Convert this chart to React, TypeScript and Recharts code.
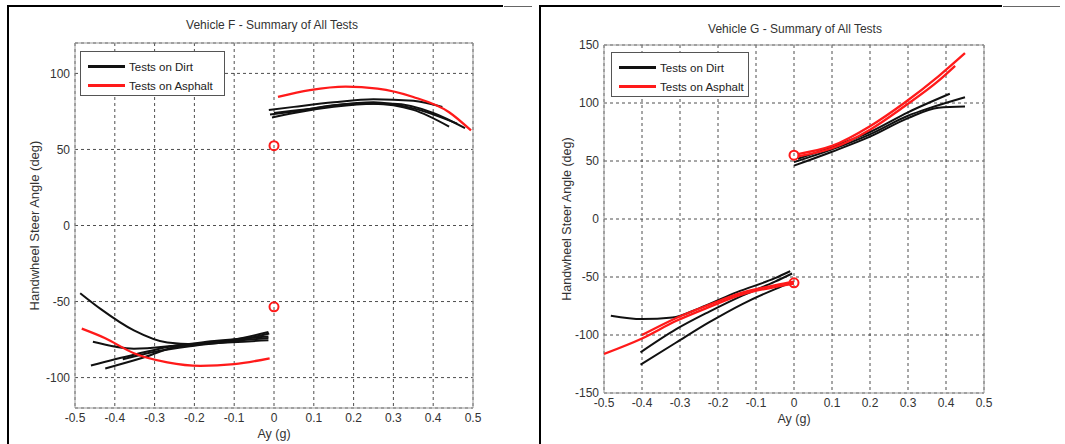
import React from 'react';
import { ComposedChart, Line, Scatter, XAxis, YAxis, CartesianGrid, ReferenceArea, Legend } from 'recharts';

// ---------- shared ticks ----------
const xTicks = [-0.5, -0.4, -0.3, -0.2, -0.1, 0, 0.1, 0.2, 0.3, 0.4, 0.5];
const fYTicks = [-100, -50, 0, 50, 100];
const gYTicks = [-150, -100, -50, 0, 50, 100, 150];
const legendLabels = ['Tests on Dirt', 'Tests on Asphalt'];

// ---------- Vehicle F ----------
const fDirtPos1 = [{ x: -0.013, y: 76 }, { x: 0.05, y: 78 }, { x: 0.15, y: 81 }, { x: 0.25, y: 83 }, { x: 0.35, y: 82 }, { x: 0.423, y: 78 }];
const fDirtPos2 = [{ x: -0.01, y: 73 }, { x: 0.05, y: 75 }, { x: 0.15, y: 79 }, { x: 0.25, y: 81 }, { x: 0.35, y: 77 }, { x: 0.46, y: 67 }];
const fDirtPos3 = [{ x: -0.005, y: 71 }, { x: 0.05, y: 74 }, { x: 0.15, y: 78 }, { x: 0.25, y: 80 }, { x: 0.35, y: 76 }, { x: 0.44, y: 65 }];
const fDirtPos4 = [{ x: 0.0, y: 74 }, { x: 0.1, y: 77 }, { x: 0.2, y: 80 }, { x: 0.3, y: 80 }, { x: 0.4, y: 74 }, { x: 0.48, y: 64 }];
const fAsphPos1 = [{ x: 0.01, y: 84.5 }, { x: 0.09, y: 89 }, { x: 0.18, y: 91.3 }, { x: 0.26, y: 90 }, { x: 0.35, y: 84.5 }, { x: 0.44, y: 74.5 }, { x: 0.495, y: 62.5 }];

const fDirtNeg1 = [{ x: -0.487, y: -44.5 }, { x: -0.435, y: -55 }, { x: -0.352, y: -69 }, { x: -0.268, y: -77 }, { x: -0.2, y: -78 }, { x: -0.1, y: -75 }, { x: -0.014, y: -70 }];
const fDirtNeg2 = [{ x: -0.455, y: -76.5 }, { x: -0.352, y: -81 }, { x: -0.25, y: -79 }, { x: -0.15, y: -76 }, { x: -0.014, y: -73 }];
const fDirtNeg3 = [{ x: -0.46, y: -92 }, { x: -0.352, y: -85 }, { x: -0.25, y: -79 }, { x: -0.15, y: -77 }, { x: -0.014, y: -74 }];
const fDirtNeg4 = [{ x: -0.424, y: -94 }, { x: -0.33, y: -87 }, { x: -0.25, y: -80 }, { x: -0.15, y: -77.5 }, { x: -0.014, y: -75.5 }];
const fDirtNeg5 = [{ x: -0.38, y: -88 }, { x: -0.3, y: -83 }, { x: -0.2, y: -79 }, { x: -0.1, y: -76 }, { x: -0.012, y: -71 }];
const fAsphNeg1 = [{ x: -0.483, y: -67.8 }, { x: -0.424, y: -74.1 }, { x: -0.352, y: -84 }, { x: -0.268, y: -90 }, { x: -0.185, y: -92.3 }, { x: -0.1, y: -91.2 }, { x: -0.011, y: -87.3 }];
const fCircles = [{ x: 0, y: 52.5 }, { x: 0, y: -53.5 }];

// ---------- Vehicle G ----------
const gDirtPos1 = [{ x: 0, y: 46 }, { x: 0.1, y: 58 }, { x: 0.2, y: 71 }, { x: 0.3, y: 87 }, { x: 0.38, y: 96 }, { x: 0.45, y: 97 }];
const gDirtPos2 = [{ x: 0, y: 49 }, { x: 0.1, y: 60 }, { x: 0.2, y: 73 }, { x: 0.3, y: 89 }, { x: 0.36, y: 96 }, { x: 0.45, y: 105 }];
const gDirtPos3 = [{ x: 0.01, y: 52 }, { x: 0.1, y: 62 }, { x: 0.2, y: 75 }, { x: 0.3, y: 92 }, { x: 0.41, y: 108 }];
const gAsphPos1 = [{ x: 0.01, y: 56 }, { x: 0.1, y: 63 }, { x: 0.2, y: 80 }, { x: 0.29, y: 100 }, { x: 0.38, y: 123 }, { x: 0.45, y: 143 }];
const gAsphPos2 = [{ x: 0.01, y: 54 }, { x: 0.1, y: 61 }, { x: 0.2, y: 77 }, { x: 0.29, y: 97 }, { x: 0.38, y: 119 }, { x: 0.424, y: 132 }];

const gDirtNeg1 = [{ x: -0.482, y: -83.4 }, { x: -0.4, y: -86.3 }, { x: -0.32, y: -85 }, { x: -0.25, y: -77 }, { x: -0.15, y: -63 }, { x: -0.05, y: -51 }, { x: -0.01, y: -45 }];
const gDirtNeg2 = [{ x: -0.404, y: -115 }, { x: -0.31, y: -95 }, { x: -0.224, y: -80 }, { x: -0.136, y: -66 }, { x: -0.05, y: -54 }, { x: -0.005, y: -47 }];
const gDirtNeg3 = [{ x: -0.404, y: -125.6 }, { x: -0.311, y: -106.7 }, { x: -0.224, y: -89.2 }, { x: -0.136, y: -73.3 }, { x: -0.048, y: -60.2 }, { x: -0.004, y: -54.4 }];
const gAsphNeg1 = [{ x: -0.5, y: -116.3 }, { x: -0.4, y: -103 }, { x: -0.311, y: -88 }, { x: -0.224, y: -76 }, { x: -0.136, y: -65 }, { x: -0.048, y: -58.5 }, { x: 0, y: -55.8 }];
const gAsphNeg2 = [{ x: -0.4, y: -100 }, { x: -0.311, y: -85.5 }, { x: -0.224, y: -74 }, { x: -0.136, y: -63.5 }, { x: -0.048, y: -57 }, { x: 0, y: -54 }];
const gCircles = [{ x: 0, y: 55 }, { x: 0, y: -55 }];

const DIRT = '#111111';
const ASPH = '#ff1a1a';
const FONT = '"Liberation Sans", Arial, sans-serif';
const TXT = '#333333';

const fmtX = (v: number) => (Math.abs(v) < 1e-9 ? '0' : v.toFixed(1));

const RingShape = (props: any) => {
  const { cx, cy } = props;
  if (cx == null || cy == null) return null;
  return <circle cx={cx} cy={cy} r={4.5} fill="none" stroke={ASPH} strokeWidth={2} />;
};

const LegendBox = ({ width }: { width: number }) => (
  <div
    style={{
      width,
      height: 45,
      border: '1px solid #555',
      background: '#fff',
      boxSizing: 'border-box',
      fontFamily: FONT,
      fontSize: 11.5,
      color: '#222',
      padding: '5px 0 0 7px',
    }}
  >
    {legendLabels.map((lab, i) => (
      <div key={lab} style={{ display: 'flex', alignItems: 'center', height: 19 }}>
        <span style={{ display: 'inline-block', width: 37, height: 3, background: i === 0 ? DIRT : ASPH, marginRight: 4 }} />
        <span>{lab}</span>
      </div>
    ))}
  </div>
);

type Series = { x: number; y: number }[];

const Panel = (props: {
  width: number;
  height: number;
  margin: { top: number; right: number; bottom: number; left: number };
  yDomain: [number, number];
  yTicks: number[];
  dirt: Series[];
  asph: Series[];
  circles: Series;
  legendPos: { left: number; top: number; width: number };
  yLabelOffset: number;
  yLabelSize: number;
  xLabelOffset: number;
}) => {
  const { width, height, margin, yDomain, yTicks, dirt, asph, circles, legendPos, yLabelOffset, yLabelSize, xLabelOffset } = props;
  return (
    <ComposedChart width={width} height={height} margin={margin}>
      <CartesianGrid stroke="#222" strokeDasharray="3 3" strokeWidth={0.8} />
      <ReferenceArea x1={-0.5} x2={0.5} y1={yDomain[0]} y2={yDomain[1]} fill="none" fillOpacity={0} stroke="#999" strokeWidth={1} ifOverflow="visible" />
      <XAxis
        dataKey="x"
        type="number"
        domain={[-0.5, 0.5]}
        ticks={xTicks}
        tickFormatter={fmtX}
        allowDataOverflow
        axisLine={false}
        tickLine={false}
        tickSize={3}
        height={20}
        tick={{ fontSize: 12, fill: TXT, fontFamily: FONT }}
        label={{ value: 'Ay (g)', position: 'bottom', offset: xLabelOffset, style: { fontSize: 12.5, fill: TXT, fontFamily: FONT } }}
      />
      <YAxis
        type="number"
        domain={yDomain}
        ticks={yTicks}
        allowDataOverflow
        axisLine={false}
        tickLine={false}
        tickSize={3}
        width={40}
        tick={{ fontSize: 12, fill: TXT, fontFamily: FONT }}
        label={{
          value: 'Handwheel Steer Angle (deg)',
          angle: -90,
          position: 'insideLeft',
          offset: yLabelOffset,
          style: { textAnchor: 'middle', fontSize: yLabelSize, fill: TXT, fontFamily: FONT },
        }}
      />
      {dirt.map((d, i) => (
        <Line key={'d' + i} data={d} dataKey="y" type="monotone" stroke={DIRT} strokeWidth={2} dot={false} activeDot={false} isAnimationActive={false} />
      ))}
      {asph.map((d, i) => (
        <Line key={'a' + i} data={d} dataKey="y" type="monotone" stroke={ASPH} strokeWidth={2.3} dot={false} activeDot={false} isAnimationActive={false} />
      ))}
      <Scatter data={circles} dataKey="y" shape={RingShape} isAnimationActive={false} />
      <Legend
        layout="horizontal"
        verticalAlign="middle"
        align="center"
        wrapperStyle={{ position: 'absolute', left: legendPos.left, top: legendPos.top, width: legendPos.width, height: 45 }}
        content={() => <LegendBox width={legendPos.width} />}
      />
    </ComposedChart>
  );
};

export default function App() {
  return (
    <div style={{ position: 'absolute', left: 0, top: 0, width: 1065, height: 444, background: '#fff', overflow: 'hidden' }}>
      {/* panel frames */}
      <div style={{ position: 'absolute', left: 7, top: 5, width: 2, height: 439, background: '#000' }} />
      <div style={{ position: 'absolute', left: 7, top: 5, width: 496, height: 2, background: '#000' }} />
      <div style={{ position: 'absolute', left: 504, top: 6, width: 28, height: 1, background: '#666' }} />
      <div style={{ position: 'absolute', left: 539, top: 5, width: 2, height: 439, background: '#000' }} />
      <div style={{ position: 'absolute', left: 539, top: 5, width: 463, height: 2, background: '#000' }} />
      <div style={{ position: 'absolute', left: 1003, top: 6, width: 57, height: 1, background: '#666' }} />

      {/* Vehicle F */}
      <div style={{ position: 'absolute', left: 0, top: 0, width: 540, height: 444 }}>
        <div style={{ position: 'absolute', left: 172, top: 18, width: 200, textAlign: 'center', fontFamily: FONT, fontSize: 12, color: TXT }}>
          Vehicle F - Summary of All Tests
        </div>
        <Panel
          width={540}
          height={444}
          margin={{ top: 43, right: 67, bottom: 16, left: 35 }}
          yDomain={[-120, 120]}
          yTicks={fYTicks}
          dirt={[fDirtPos1, fDirtPos2, fDirtPos3, fDirtPos4, fDirtNeg1, fDirtNeg2, fDirtNeg3, fDirtNeg4, fDirtNeg5]}
          asph={[fAsphPos1, fAsphNeg1]}
          circles={fCircles}
          legendPos={{ left: 80, top: 51, width: 145 }}
          yLabelOffset={-1}
          yLabelSize={13}
          xLabelOffset={1}
        />
      </div>

      {/* Vehicle G */}
      <div style={{ position: 'absolute', left: 530, top: 0, width: 535, height: 444 }}>
        <div style={{ position: 'absolute', left: 165, top: 22, width: 200, textAlign: 'center', fontFamily: FONT, fontSize: 12, color: TXT }}>
          Vehicle G - Summary of All Tests
        </div>
        <Panel
          width={535}
          height={444}
          margin={{ top: 45, right: 81, bottom: 31, left: 34 }}
          yDomain={[-150, 150]}
          yTicks={gYTicks}
          dirt={[gDirtPos1, gDirtPos2, gDirtPos3, gDirtNeg1, gDirtNeg2, gDirtNeg3]}
          asph={[gAsphPos1, gAsphPos2, gAsphNeg1, gAsphNeg2]}
          circles={gCircles}
          legendPos={{ left: 81, top: 52, width: 138 }}
          yLabelOffset={3}
          yLabelSize={12.5}
          xLabelOffset={1}
        />
      </div>
    </div>
  );
}
